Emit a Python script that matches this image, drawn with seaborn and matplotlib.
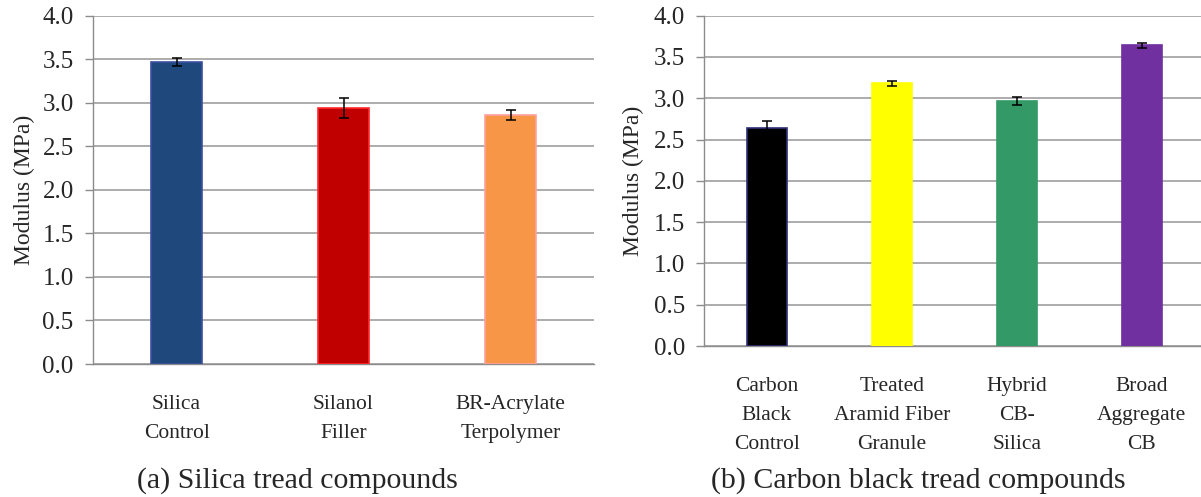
import matplotlib
matplotlib.use("Agg")
import matplotlib.pyplot as plt
import seaborn as sns
import pandas as pd

# Silica tread compounds
silica_names = ["Silica\nControl", "Silanol\nFiller", "BR-Acrylate\nTerpolymer"]
silica_modulus = [3.47, 2.94, 2.86]
silica_err = [0.05, 0.115, 0.06]
silica_fill = ["#1F497D", "#C00000", "#F79646"]
silica_edge = ["#3C4FA0", "#FF2A2A", "#FFA0A0"]

# Carbon black tread compounds
cb_names = ["Carbon\nBlack\nControl", "Treated\nAramid Fiber\nGranule",
            "Hybrid\nCB-\nSilica", "Broad\nAggregate\nCB"]
cb_modulus = [2.64, 3.18, 2.97, 3.64]
cb_err = [0.09, 0.03, 0.05, 0.03]
cb_fill = ["#000000", "#FFFF00", "#339966", "#7030A0"]
cb_edge = ["#303078", "#FFFF00", "#339966", "#7030A0"]

y_ticks = [0.0, 0.5, 1.0, 1.5, 2.0, 2.5, 3.0, 3.5, 4.0]
captions = ["(a) Silica tread compounds", "(b) Carbon black tread compounds"]

sns.set_style("white")
plt.rcParams["font.family"] = ["Liberation Serif", "DejaVu Serif"]

GRID = "#A6A6A6"

fig = plt.figure(figsize=(12.01, 4.97), dpi=100)
ax_a = fig.add_axes([0.0775, 0.2676, 0.4171, 0.7008])
ax_b = fig.add_axes([0.5864, 0.3038, 0.4136, 0.6646])


def draw_panel(ax, names, values, errs, fills, edges, width, xmax, xpad):
    df = pd.DataFrame({"compound": names, "modulus": values})
    sns.barplot(data=df, x="compound", y="modulus", hue="compound",
                palette=fills, saturation=1, width=width, errorbar=None,
                legend=False, ax=ax, zorder=3, linewidth=1.2)
    for patch, ec in zip(ax.patches, edges):
        patch.set_edgecolor(ec)
    ax.errorbar(range(len(values)), values, yerr=errs, fmt="none",
                ecolor="black", elinewidth=1.1, capsize=3.4, capthick=1.1,
                zorder=4)
    ax.set_ylim(0, 4.0)
    ax.set_xlim(-0.5, xmax)
    ax.set_yticks(y_ticks)
    ax.set_yticklabels([f"{t:.1f}" for t in y_ticks])
    ax.yaxis.grid(True, color=GRID, linewidth=1.3, zorder=0)
    ax.set_axisbelow(True)
    for side in ("top", "right"):
        ax.spines[side].set_visible(False)
    for side in ("left", "bottom"):
        ax.spines[side].set_color("#8C8C8C")
        ax.spines[side].set_linewidth(1.0)
    ax.tick_params(axis="y", length=6, width=1.0, color="#8C8C8C",
                   labelsize=18, pad=8, left=True)
    ax.tick_params(axis="x", length=0, labelsize=15.5, pad=xpad)
    for lbl in ax.get_xticklabels():
        lbl.set_linespacing(1.72)
    ax.set_xlabel("")
    ax.set_ylabel("Modulus (MPa)", fontsize=17)


draw_panel(ax_a, silica_names, silica_modulus, silica_err,
           silica_fill, silica_edge, 0.31, 2.5, 22)
draw_panel(ax_b, cb_names, cb_modulus, cb_err,
           cb_fill, cb_edge, 0.32, 3.474, 22)

ax_a.yaxis.set_label_coords(-0.115, 0.5)
ax_b.yaxis.set_label_coords(-0.122, 0.5)

fig.text(0.248, 0.034, captions[0], fontsize=21.5, ha="center", va="center")
fig.text(0.765, 0.034, captions[1], fontsize=21.5, ha="center", va="center")

fig.savefig("out.png", dpi=100)
